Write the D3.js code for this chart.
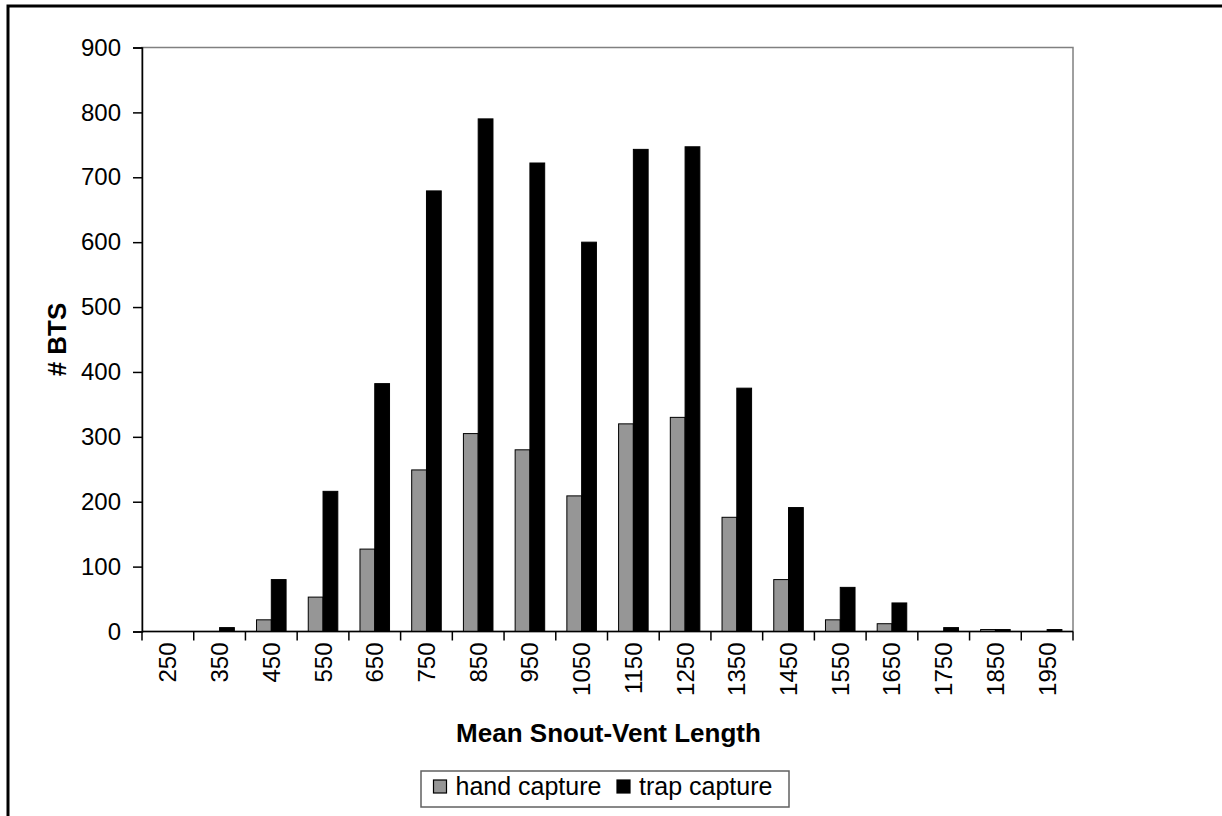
<!DOCTYPE html>
<html>
<head>
<meta charset="utf-8">
<script src="https://cdn.jsdelivr.net/npm/d3@7"></script>
<style>
  html, body { margin: 0; padding: 0; background: #fff; }
  svg { display: block; font-family: "Liberation Sans", Arial, sans-serif; }
</style>
</head>
<body>
<svg id="chart" width="1222" height="816"></svg>
<script>
const categories = ["250","350","450","550","650","750","850","950","1050","1150","1250","1350","1450","1550","1650","1750","1850","1950"];
const handCapture = [0, 0, 18, 53, 127, 249, 305, 280, 209, 320, 330, 176, 80, 18, 12, 0, 3, 0];
const trapCapture = [0, 6, 80, 216, 382, 679, 790, 722, 600, 743, 747, 375, 191, 68, 44, 6, 3, 3];
const seriesNames = ["hand capture", "trap capture"];
const seriesColors = ["#969696", "#000000"];
const yTicks = [0, 100, 200, 300, 400, 500, 600, 700, 800, 900];

const svg = d3.select("#chart");
const W = 1222, H = 816;
const plot = { left: 142, right: 1073, top: 47.5, bottom: 631.5 };

// outer border
svg.append("rect").attr("x", 8).attr("y", 6).attr("width", W + 10).attr("height", H + 10)
  .attr("fill", "#fff").attr("stroke", "#000").attr("stroke-width", 3);

const x = d3.scaleBand().domain(categories).range([plot.left, plot.right])
  .paddingInner(1.5 / 3.5).paddingOuter(0.75 / 3.5);
const xs = d3.scaleBand().domain(seriesNames).range([0, x.bandwidth()]);
const y = d3.scaleLinear().domain([0, 900]).range([plot.bottom, plot.top]);

// plot area border (gray)
svg.append("rect").attr("x", plot.left).attr("y", plot.top)
  .attr("width", plot.right - plot.left).attr("height", plot.bottom - plot.top)
  .attr("fill", "none").attr("stroke", "#808080").attr("stroke-width", 1.5);

const data = categories.map((c, i) => ({ cat: c, values: [handCapture[i], trapCapture[i]] }));

const groups = svg.append("g").selectAll("g").data(data).join("g")
  .attr("transform", d => `translate(${x(d.cat)},0)`);
groups.selectAll("rect").data(d => d.values.map((v, j) => ({ v, j })).filter(e => e.v > 0)).join("rect")
  .attr("x", e => xs(seriesNames[e.j]))
  .attr("width", xs.bandwidth())
  .attr("y", e => y(e.v))
  .attr("height", e => plot.bottom - y(e.v))
  .attr("fill", e => seriesColors[e.j])
  .attr("stroke", "#000").attr("stroke-width", 1);

// y axis
const yAxis = svg.append("g").attr("transform", `translate(${plot.left},0)`)
  .call(d3.axisLeft(y).tickValues(yTicks).tickSize(9).tickPadding(12).tickFormat(d3.format("d")));
yAxis.select(".domain").attr("stroke", "#000").attr("stroke-width", 1.5);
yAxis.selectAll(".tick line").attr("stroke", "#000").attr("stroke-width", 1.5);
yAxis.selectAll(".tick text").attr("font-size", 24).attr("fill", "#000")
  .attr("font-family", "Liberation Sans, Arial, sans-serif");

// x axis: line, ticks at category boundaries
const xg = svg.append("g");
xg.append("line").attr("x1", plot.left).attr("x2", plot.right)
  .attr("y1", plot.bottom).attr("y2", plot.bottom).attr("stroke", "#000").attr("stroke-width", 1.5);
const step = x.step();
const bounds = d3.range(categories.length + 1).map(i => plot.left + i * step);
xg.selectAll("line.tk").data(bounds).join("line").attr("class", "tk")
  .attr("x1", d => d).attr("x2", d => d).attr("y1", plot.bottom).attr("y2", plot.bottom + 9)
  .attr("stroke", "#000").attr("stroke-width", 1.5);
xg.selectAll("text").data(categories).join("text")
  .attr("transform", d => `translate(${x(d) + x.bandwidth() / 2 + 8.5},${plot.bottom + 11}) rotate(-90)`)
  .attr("text-anchor", "end")
  .attr("font-size", 24).attr("fill", "#000")
  .text(d => d);

// axis titles
svg.append("text").attr("x", (plot.left + plot.right) / 2 + 1).attr("y", 742)
  .attr("text-anchor", "middle").attr("font-size", 26).attr("font-weight", "bold")
  .text("Mean Snout-Vent Length");
svg.append("text").attr("transform", `translate(66,${(plot.top + plot.bottom) / 2}) rotate(-90)`)
  .attr("text-anchor", "middle").attr("font-size", 26).attr("font-weight", "bold")
  .text("# BTS");

// legend
const lg = svg.append("g");
lg.append("rect").attr("x", 421).attr("y", 771).attr("width", 368).attr("height", 36)
  .attr("fill", "#fff").attr("stroke", "#606060").attr("stroke-width", 1.5);
const legX = [433.5, 617];
seriesNames.forEach((n, i) => {
  lg.append("rect").attr("x", legX[i]).attr("y", 780).attr("width", 13).attr("height", 13)
    .attr("fill", seriesColors[i]).attr("stroke", "#000").attr("stroke-width", 1.2);
  lg.append("text").attr("x", legX[i] + 22).attr("y", 795).attr("font-size", 25).text(n);
});
</script>
</body>
</html>
